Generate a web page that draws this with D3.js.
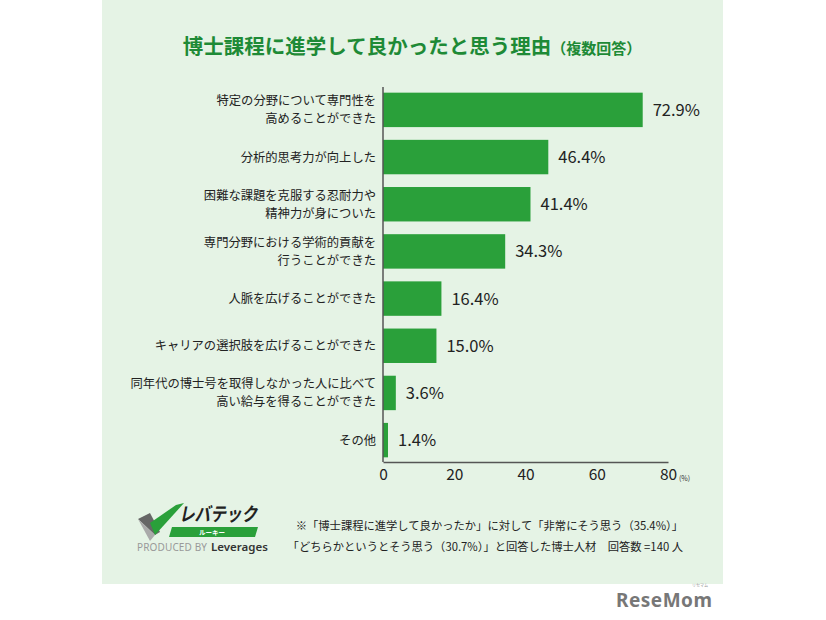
<!DOCTYPE html>
<html><head><meta charset="utf-8">
<script src="https://cdn.jsdelivr.net/npm/d3@7"></script>
<style>body{margin:0;background:#fff;}svg{display:block;font-family:"Noto Sans CJK JP","Noto Sans",sans-serif;}</style>
</head><body><svg id="c" width="826" height="620"></svg>
<script>
const categories = [
  ["特定の分野について専門性を","高めることができた"],
  ["分析的思考力が向上した"],
  ["困難な課題を克服する忍耐力や","精神力が身についた"],
  ["専門分野における学術的貢献を","行うことができた"],
  ["人脈を広げることができた"],
  ["キャリアの選択肢を広げることができた"],
  ["同年代の博士号を取得しなかった人に比べて","高い給与を得ることができた"],
  ["その他"]
];
const values = [72.9, 46.4, 41.4, 34.3, 16.4, 15.0, 3.6, 1.4];
const ticks = [0, 20, 40, 60, 80];
const title = "博士課程に進学して良かったと思う理由";
const subtitle = "（複数回答）";
const notes = ["※「博士課程に進学して良かったか」に対して「非常にそう思う（35.4%）」",
               "「どちらかというとそう思う（30.7%）」と回答した博士人材　回答数 =140 人"];

const svg = d3.select("#c");
svg.append("rect").attr("x",102).attr("y",0).attr("width",621).attr("height",584).attr("fill","#e5f3e5");

const t = svg.append("text").attr("x",412).attr("y",54).attr("text-anchor","middle").attr("fill","#1e8a36").attr("font-weight","bold");
t.append("tspan").attr("font-size",20.5).text(title);
t.append("tspan").attr("font-size",15).text(subtitle);

const x = d3.scaleLinear().domain([0,80]).range([383,668]);
const y = d3.scaleBand().domain(d3.range(values.length)).range([87,463]).paddingInner(0.27).paddingOuter(0.12);

svg.selectAll("rect.bar").data(values).join("rect").attr("class","bar")
  .attr("x",x(0)).attr("y",(d,i)=>y(i)).attr("width",d=>x(d)-x(0)).attr("height",y.bandwidth()).attr("fill","#2aa03a");

svg.selectAll("text.val").data(values).join("text").attr("class","val")
  .attr("x",d=>x(d)+10).attr("y",(d,i)=>y(i)+y.bandwidth()/2+6).attr("font-size",16.5).attr("fill","#222")
  .text(d=>d.toFixed(1)+"%");

categories.forEach((lines,i)=>{
  const cy = y(i)+y.bandwidth()/2;
  lines.forEach((l,j)=>{
    svg.append("text").attr("text-anchor","end").attr("font-size",12.3).attr("fill","#222")
      .attr("x",376).attr("y",cy+4.5+(j-(lines.length-1)/2)*18).text(l);
  });
});

const ax = svg.append("g").attr("transform","translate(0,462)")
  .call(d3.axisBottom(x).tickValues(ticks).tickSize(0).tickPadding(7));
ax.select(".domain").attr("stroke","#555").attr("stroke-width",1.5);
ax.selectAll("text").attr("font-size",15.5).attr("fill","#222").attr("font-family","Noto Sans CJK JP, sans-serif");
svg.append("line").attr("x1",x(0)).attr("x2",x(0)).attr("y1",87).attr("y2",462).attr("stroke","#555").attr("stroke-width",1.5);
svg.append("text").attr("x",x(80)+11).attr("y",481).attr("font-size",7).attr("fill","#333").text("(%)");

notes.forEach((n,i)=>{
  svg.append("text").attr("x",683).attr("y",530+i*21).attr("text-anchor","end").attr("font-size",11.3).attr("fill","#222").text(n);
});

const lg = svg.append("g");
lg.append("polygon").attr("points","138,519 150,513 160,532 155,535").attr("fill","#666");
lg.append("polygon").attr("points","138,519 155,535 150,541").attr("fill","#aaa");
lg.append("polygon").attr("points","150,523 155,535 184,503 176,505").attr("fill","#2aa03a");
lg.append("text").attr("x",179).attr("y",521).attr("font-size",19).attr("font-weight","bold").attr("font-style","italic").attr("fill","#222").attr("textLength",78).attr("lengthAdjust","spacingAndGlyphs").text("レバテック");
lg.append("polygon").attr("points","172,527 258,527 255,537 169,537").attr("fill","#2aa03a");
lg.append("text").attr("x",212).attr("y",535).attr("text-anchor","middle").attr("font-size",6.5).attr("fill","#fff").attr("font-weight","bold").text("ルーキー");
lg.append("text").attr("x",137).attr("y",551).attr("font-size",10).attr("fill","#999").attr("font-family","Noto Sans, sans-serif").attr("textLength",70).text("PRODUCED BY");
lg.append("text").attr("x",211).attr("y",551).attr("font-size",11.5).attr("fill","#333").attr("font-weight","600").attr("font-family","Noto Sans, sans-serif").text("Leverages");

svg.append("text").attr("x",616).attr("y",607).attr("font-size",19).attr("font-weight","bold").attr("fill","#777").attr("font-family","Noto Sans, sans-serif").attr("textLength",96).text("ReseMom");
svg.append("text").attr("x",692).attr("y",587).attr("font-size",4).attr("fill","#999").text("リセマム");
</script></body></html>
